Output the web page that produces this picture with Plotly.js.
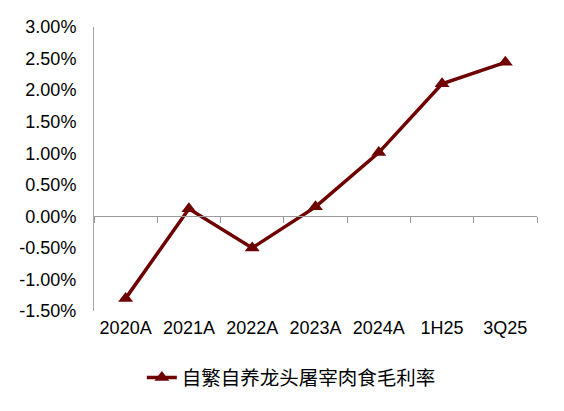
<!DOCTYPE html>
<html><head><meta charset="utf-8">
<script src="https://cdn.plot.ly/plotly-3.0.1.min.js"></script>
<style>html,body{margin:0;padding:0;background:#fff}#chart{width:564px;height:411px}</style>
</head><body><div id="chart"></div>
<script>
const categories = ["2020A","2021A","2022A","2023A","2024A","1H25","3Q25"];
const seriesName = "自繁自养龙头屠宰肉食毛利率";
const margin = [-1.30, 0.12, -0.50, 0.15, 1.01, 2.10, 2.44];
const yTicks = [-1.5,-1.0,-0.5,0,0.5,1.0,1.5,2.0,2.5,3.0];

const color = "#6E0000";
const font = "Liberation Sans, Arial, Noto Sans CJK SC, sans-serif";

const traces = [
  {x: categories, y: margin, type: "scatter", mode: "lines+markers", name: seriesName,
   line: {color: color, width: 3.5}, marker: {symbol: "triangle-up", size: 13, color: color}},
  {x: categories, y: margin, type: "scatter", mode: "none", xaxis: "x2", showlegend: false, hoverinfo: "skip"}
];

const layout = {
  width: 564, height: 411,
  margin: {l: 94, r: 27, t: 27, b: 100},
  paper_bgcolor: "#fff", plot_bgcolor: "#fff",
  font: {family: font, size: 18, color: "#000"},
  showlegend: true,
  legend: {orientation: "h", x: 0.108, xanchor: "left", y: -0.235, yanchor: "middle",
           font: {family: font, size: 19.5, color: "#000"}},
  xaxis: {type: "category", categoryorder: "array", categoryarray: categories, range: [-0.5, 6.5],
          showline: false, showgrid: false, zeroline: false, ticks: "", ticklabelstandoff: 4,
          tickfont: {family: font, size: 18}},
  xaxis2: {type: "category", categoryorder: "array", categoryarray: categories, range: [-0.5, 6.5],
           overlaying: "x", anchor: "free", position: 1/3, side: "bottom",
           showline: true, linecolor: "#9a9a9a", linewidth: 1,
           ticks: "outside", ticklen: 6, tickcolor: "#9a9a9a", tickwidth: 1, tickson: "boundaries",
           showticklabels: false, showgrid: false, zeroline: false},
  yaxis: {range: [-1.5, 3.0], tickmode: "array", tickvals: yTicks,
          ticktext: yTicks.map(v => v.toFixed(2) + "%"),
          showline: true, linecolor: "#a6a6a6", linewidth: 1, ticks: "",
          showgrid: false, zeroline: false, ticklabelstandoff: 13,
          tickfont: {family: font, size: 18}}
};

Plotly.newPlot("chart", traces, layout, {displayModeBar: false, staticPlot: true});
</script></body></html>
